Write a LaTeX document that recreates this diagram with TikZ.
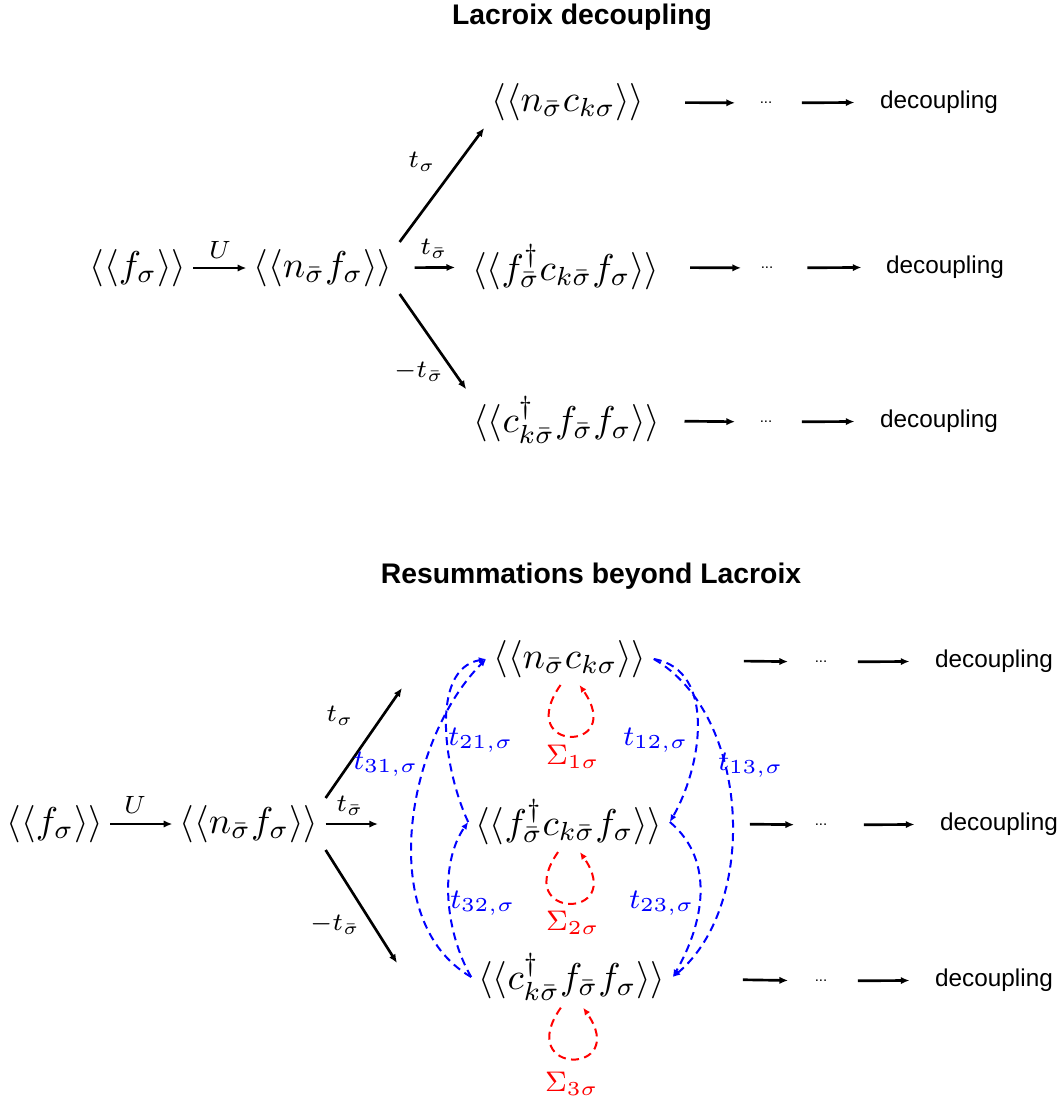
\RequirePackage{fix-cm}
\documentclass[tikz,border=0pt]{standalone}
\usepackage{fontspec}
\setsansfont{Liberation Sans}
\usetikzlibrary{arrows.meta}

\tikzset{
  term/.style={inner sep=2pt, font=\fontsize{11.2}{14}\selectfont},
  lbl/.style={inner sep=0pt, font=\fontsize{7.5}{9}\selectfont},
  hoplbl/.style={inner sep=0pt, text=blue, font=\fontsize{8.5}{10}\selectfont},
  selflbl/.style={inner sep=0pt, text=red, font=\fontsize{8.5}{10}\selectfont},
  word/.style={inner sep=0pt, font=\sffamily\fontsize{7.3}{9}\selectfont},
  etc/.style={inner sep=0pt, font=\sffamily\fontsize{4.5}{5}\selectfont},
  heading/.style={inner sep=0pt, font=\sffamily\bfseries\fontsize{8.5}{10}\selectfont},
  flow/.style={-{Latex[length=2.6pt,width=2.2pt]}, line width=0.8pt},
  hop/.style={-{Latex[length=2.2pt,width=1.9pt]}, blue, line width=0.6pt, dash pattern=on 2.4pt off 1.6pt},
  self/.style={-{Latex[length=2.2pt,width=1.9pt]}, red, line width=0.6pt, dash pattern=on 2.4pt off 1.6pt},
}

\begin{document}
\begin{tikzpicture}[x=0.3pt, y=-0.3pt]
\useasboundingbox (0,0) rectangle (1063,1101);

\node[heading] (head1) at (582,17) {Lacroix decoupling};
\node[heading] (head2) at (591,576) {Resummations beyond Lacroix};


\node[term] (a1) at (138,268) {$\langle\langle f_\sigma\rangle\rangle$};
\node[term] (a2) at (323,268) {$\langle\langle n_{\bar\sigma} f_\sigma\rangle\rangle$};

\node[term] (b1) at (568,102) {$\langle\langle n_{\bar\sigma} c_{k\sigma}\rangle\rangle$};
\node[term] (b2) at (566,267) {$\langle\langle f^\dagger_{\bar\sigma} c_{k\bar\sigma} f_\sigma\rangle\rangle$};
\node[term] (b3) at (567,420) {$\langle\langle c^\dagger_{k\bar\sigma} f_{\bar\sigma} f_\sigma\rangle\rangle$};

\node[etc] (db1) at (766,103) {...};
\node[etc] (db2) at (767,268) {...};
\node[etc] (db3) at (766,422) {...};

\node[word] (eb1) at (939,102) {decoupling};
\node[word] (eb2) at (945,267) {decoupling};
\node[word] (eb3) at (939,421) {decoupling};

\draw[flow] (a1) -- (a2);
\draw[flow] (a2.north east) -- (b1.south west);
\draw[flow, shorten <=4.5pt, shorten >=3pt] (a2) -- (b2);
\draw[flow] (a2.south east) -- (b3.north west);

\node[lbl] (lU1) at (220,250) {$U$};
\node[lbl] (lts1) at (422,162) {$t_\sigma$};
\node[lbl] (ltb1) at (434,249) {$t_{\bar\sigma}$};
\node[lbl] (lmt1) at (419,372) {$-t_{\bar\sigma}$};

\draw[flow, shorten <=10pt, shorten >=7.2pt] (b1) -- (db1);
\draw[flow, shorten <=8.7pt, shorten >=7.5pt] (db1) -- (eb1);
\draw[flow, shorten <=7pt, shorten >=5.7pt] (b2) -- (db2);
\draw[flow, shorten <=10pt, shorten >=7.2pt] (db2) -- (eb2);
\draw[flow, shorten <=5pt, shorten >=7.2pt] (b3) -- (db3);
\draw[flow, shorten <=8.7pt, shorten >=7.5pt] (db3) -- (eb3);


\node[term] (c0) at (55,824) {$\langle\langle f_\sigma\rangle\rangle$};
\node[term] (c1) at (249,824) {$\langle\langle n_{\bar\sigma} f_\sigma\rangle\rangle$};

\node[term] (m1) at (570,659) {$\langle\langle n_{\bar\sigma} c_{k\sigma}\rangle\rangle$};
\node[term] (m2) at (569,822) {$\langle\langle f^\dagger_{\bar\sigma} c_{k\bar\sigma} f_\sigma\rangle\rangle$};
\node[term] (m3) at (572,977) {$\langle\langle c^\dagger_{k\bar\sigma} f_{\bar\sigma} f_\sigma\rangle\rangle$};

\node[etc] (dm1) at (821,662) {...};
\node[etc] (dm2) at (821,825) {...};
\node[etc] (dm3) at (821,981) {...};

\node[word] (em1) at (994,661) {decoupling};
\node[word] (em2) at (999,824) {decoupling};
\node[word] (em3) at (994,980) {decoupling};

\coordinate (up) at (402,688);
\coordinate (mid) at (378,824);
\coordinate (down) at (397,963);

\draw[flow] (c0) -- (c1);
\draw[flow] (c1.north east) -- (up);
\draw[flow] (c1) -- (mid);
\draw[flow] (c1.south east) -- (down);

\node[lbl] (lU2) at (135,805) {$U$};
\node[lbl] (lts2) at (340,716) {$t_\sigma$};
\node[lbl] (ltb2) at (350,806) {$t_{\bar\sigma}$};
\node[lbl] (lmt2) at (335,925) {$-t_{\bar\sigma}$};

\draw[flow, shorten <=27pt, shorten >=7.8pt] (m1) -- (dm1);
\draw[flow, shorten <=9pt, shorten >=7.5pt] (dm1) -- (em1);
\draw[flow, shorten <=24pt, shorten >=6pt] (m2) -- (dm2);
\draw[flow, shorten <=10.8pt, shorten >=7.5pt] (dm2) -- (em2);
\draw[flow, shorten <=21pt, shorten >=7.8pt] (m3) -- (dm3);
\draw[flow, shorten <=9pt, shorten >=7.5pt] (dm3) -- (em3);

\draw[hop] (m2.west) to[out=115, in=190, looseness=0.9] (m1.west);
\draw[hop] (m3.west) to[out=150, in=225, looseness=0.9] (m1.west);
\draw[hop] (m3.west) to[out=120, in=235, looseness=0.85] (m2.west);
\draw[hop] (m1.east) to[out=-10, in=60] (m2.east);
\draw[hop] (m1.east) to[out=-30, in=40, looseness=0.9] (m3.east);
\draw[hop] (m2.east) to[out=-40, in=60] (m3.east);

\node[hoplbl] (l21) at (481,740) {$t_{21,\sigma}$};
\node[hoplbl] (l31) at (386,764) {$t_{31,\sigma}$};
\node[hoplbl] (l32) at (483,903) {$t_{32,\sigma}$};
\node[hoplbl] (l12) at (656,740) {$t_{12,\sigma}$};
\node[hoplbl] (l13) at (751,765) {$t_{13,\sigma}$};
\node[hoplbl] (l23) at (662,903) {$t_{23,\sigma}$};

\draw[self] (m1.250) to[out=-125, in=-55, min distance=25pt] (m1.290);
\draw[self] (m2.250) to[out=-125, in=-55, min distance=25pt] (m2.290);
\draw[self] (m3.250) to[out=-125, in=-55, min distance=25pt] (m3.290);

\node[selflbl] (s1) at (573,757) {$\Sigma_{1\sigma}$};
\node[selflbl] (s2) at (573,923) {$\Sigma_{2\sigma}$};
\node[selflbl] (s3) at (572,1084) {$\Sigma_{3\sigma}$};

\end{tikzpicture}
\end{document}
